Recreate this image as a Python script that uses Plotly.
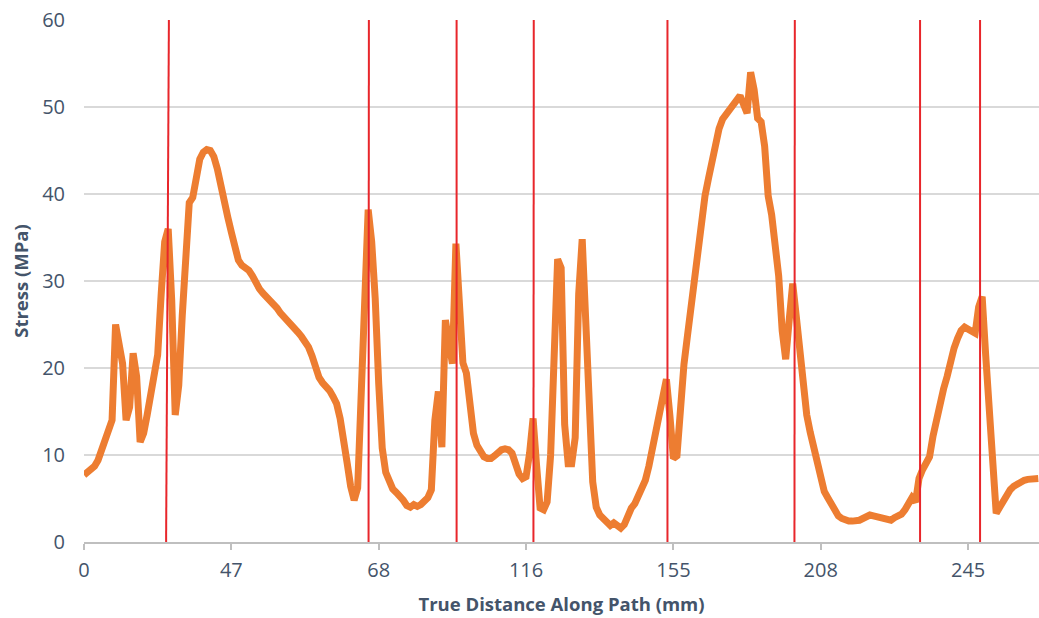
import plotly.graph_objects as go

# Stress sampled along the path (one value per sample point)
stress_mpa = [
    7.7, 8.0, 8.3, 8.7, 9.4, 10.5, 11.6, 12.4, 14.0, 25.0,
    22.5, 20.5, 14.0, 15.5, 21.7, 19.0, 11.5, 12.5, 14.6, 16.8,
    18.6, 21.5, 28.5, 34.5, 36.0, 27.8, 14.6, 18.0, 26.0, 34.6,
    39.0, 39.6, 41.5, 44.0, 44.8, 45.1, 45.0, 44.3, 42.9, 40.7,
    38.9, 37.3, 35.6, 33.7, 32.4, 31.8, 31.5, 31.2, 30.6, 29.7,
    29.1, 28.6, 28.2, 27.8, 27.4, 26.9, 26.3, 25.9, 25.5, 25.1,
    24.7, 24.1, 23.6, 23.0, 22.4, 21.4, 20.0, 18.9, 18.3, 17.9,
    17.4, 16.7, 15.9, 14.2, 12.0, 9.1, 6.4, 4.8, 6.2, 17.0,
    29.5, 38.2, 34.5, 28.0, 18.2, 10.8, 8.0, 6.9, 6.1, 5.7,
    5.3, 4.8, 4.2, 4.0, 4.3, 4.1, 4.3, 4.7, 5.1, 6.0,
    14.0, 17.3, 10.9, 25.5, 23.0, 20.5, 34.3, 25.5, 20.6, 19.4,
    15.6, 12.5, 11.1, 10.3, 9.8, 9.6, 9.6, 9.9, 10.3, 10.6,
    10.7, 10.6, 10.2, 8.9, 7.8, 7.3, 7.5, 10.2, 14.2, 8.8,
    3.9, 3.7, 4.6, 10.0, 20.5, 32.5, 31.5, 13.5, 9.0, 9.0,
    12.0, 28.5, 34.8, 26.0, 13.5, 6.9, 4.0, 3.1, 2.7, 2.4,
    1.9, 2.2, 1.9, 1.6, 2.0, 3.1, 3.9, 4.4, 5.2, 6.3,
    7.1, 8.7, 10.7, 12.7, 14.4, 17.0, 18.7, 14.5, 9.6, 9.9,
    16.5, 20.4, 23.7, 27.1, 30.4, 33.7, 36.9, 39.8, 41.8, 44.0,
    46.2, 47.5, 48.6, 49.2, 49.8, 50.3, 50.8, 51.3, 50.3, 49.3,
    54.0, 52.0, 48.7, 48.3, 45.5, 39.8, 37.6, 34.2, 30.6, 24.3,
    21.0, 25.5, 29.7, 26.0, 21.5, 17.5, 14.6, 12.6, 10.9, 8.6,
    6.8, 5.8, 5.1, 4.3, 3.5, 3.0, 2.7, 2.5, 2.4, 2.4,
    2.4, 2.5, 2.7, 3.0, 3.1, 3.0, 2.9, 2.8, 2.6, 2.5,
    2.5, 2.8, 3.0, 3.2, 3.7, 4.5, 5.1, 4.6, 7.3, 8.3,
    8.9, 9.8, 12.2, 14.2, 16.0, 17.6, 19.0, 20.8, 22.3, 23.4,
    24.3, 24.7, 24.5, 24.3, 24.0, 27.0, 28.2, 21.5, 14.8, 8.5,
    3.3, 4.0, 4.8, 5.5, 6.0, 6.4, 6.7, 6.9, 7.1, 7.2,
    7.3, 7.2, 7.3,
]

# Category axis: every 42nd sample carries a distance label
tick_positions = [0, 42, 84, 126, 168, 210, 252]
tick_labels = ["0", "47", "68", "116", "155", "208", "245"]

# Vertical red marker lines (sample position at top and bottom of each line)
marker_top = [24.2, 81.2, 106.2, 128.2, 166.3, 202.6, 238.3, 255.4]
marker_bottom = [23.4, 81.1, 106.2, 128.1, 166.3, 202.5, 238.3, 255.4]

sample_idx = list(range(len(stress_mpa)))

text_color = "#44546A"
font_family = "Open Sans"

fig = go.Figure()
fig.add_trace(go.Scatter(
    x=sample_idx,
    y=stress_mpa,
    mode="lines",
    line=dict(color="#ED7D31", width=7),
    showlegend=False,
    hoverinfo="skip",
))

for xt, xb in zip(marker_top, marker_bottom):
    fig.add_shape(
        type="line", xref="x", yref="y",
        x0=xb, y0=0, x1=xt, y1=60,
        line=dict(color="#E8262B", width=2),
        layer="above",
    )

fig.update_layout(
    width=1039,
    height=618,
    margin=dict(l=84, r=0, t=20, b=76),
    paper_bgcolor="white",
    plot_bgcolor="white",
    font=dict(family=font_family, color=text_color),
    xaxis=dict(
        range=[0, 272.2],
        tickmode="array",
        tickvals=tick_positions,
        ticktext=tick_labels,
        showgrid=False,
        zeroline=False,
        showline=True,
        linecolor="#BFBFBF",
        linewidth=1.5,
        ticks="outside",
        ticklen=6,
        tickwidth=1.5,
        tickcolor="#BFBFBF",
        tickfont=dict(size=20, color=text_color, family=font_family),
        ticklabelstandoff=3,
        title=dict(
            text="True Distance Along Path (mm)",
            font=dict(size=18.5, color=text_color, family=font_family, weight="bold"),
            standoff=16,
        ),
    ),
    yaxis=dict(
        range=[0, 60],
        tickmode="linear",
        tick0=0,
        dtick=10,
        showgrid=True,
        gridcolor="#D9D9D9",
        gridwidth=1.5,
        zeroline=False,
        showline=False,
        ticks="",
        tickfont=dict(size=20, color=text_color, family=font_family),
        ticklabelstandoff=18,
        title=dict(
            text="Stress (MPa)",
            font=dict(size=18.5, color=text_color, family=font_family, weight="bold"),
            standoff=8,
        ),
    ),
)

fig.write_html("out.html")
